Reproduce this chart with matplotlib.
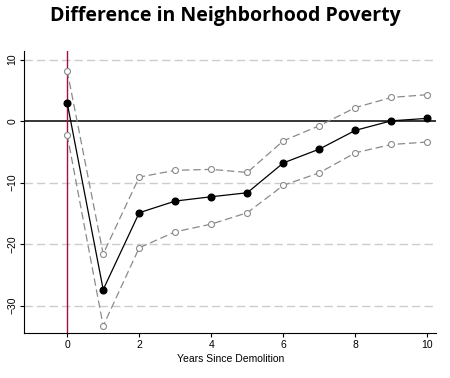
import matplotlib
matplotlib.use("Agg")
import matplotlib.pyplot as plt

years = [0, 1, 2, 3, 4, 5, 6, 7, 8, 9, 10]
estimate = [3.0, -27.4, -14.9, -13.0, -12.3, -11.65, -6.8, -4.55, -1.5, 0.05, 0.45]
upper = [8.2, -21.6, -9.1, -8.0, -7.85, -8.35, -3.2, -0.75, 2.2, 3.85, 4.3]
lower = [-2.2, -33.3, -20.6, -18.0, -16.75, -14.9, -10.45, -8.4, -5.15, -3.8, -3.4]
xticks = [0, 2, 4, 6, 8, 10]
yticks = [-30, -20, -10, 0, 10]

fig = plt.figure(figsize=(4.5, 3.78), dpi=100)
ax = fig.add_axes([0.054, 0.12, 0.915, 0.745])

for y in [-30, -20, -10, 10]:
    ax.axhline(y, color="#cccccc", lw=1, ls=(0, (6, 3)), zorder=0)
ax.axhline(0, color="black", lw=1.1, zorder=1)
ax.axvline(0, color="#a0123c", lw=1.0, zorder=1)

for ci in (upper, lower):
    ax.plot(years, ci, color="#8a8a8a", lw=0.9, ls=(0, (6, 3)), marker="o",
            markersize=4.3, markerfacecolor="white", markeredgecolor="#8a8a8a",
            markeredgewidth=0.8, zorder=2)
ax.plot(years, estimate, color="black", lw=0.9, marker="o", markersize=4.8,
        markerfacecolor="black", markeredgecolor="black", zorder=3)

ax.set_xlim(-1.19, 10.24)
ax.set_ylim(-34.4, 11.4)
ax.set_xticks(xticks)
ax.set_yticks(yticks)
ax.tick_params(axis="both", labelsize=7.5, length=3, width=0.8, pad=2)
for lbl in ax.get_yticklabels():
    lbl.set_rotation(90)
    lbl.set_va("center")
for lbl in ax.get_xticklabels() + ax.get_yticklabels():
    lbl.set_family("Liberation Sans")
ax.spines["top"].set_visible(False)
ax.spines["right"].set_visible(False)
ax.set_xlabel("Years Since Demolition", family="Liberation Sans", fontsize=7.5, labelpad=3)

fig.suptitle("Difference in Neighborhood Poverty", family="Open Sans", fontweight="bold",
             fontsize=14, x=0.5, y=0.985)

fig.savefig("out.png", dpi=100)
